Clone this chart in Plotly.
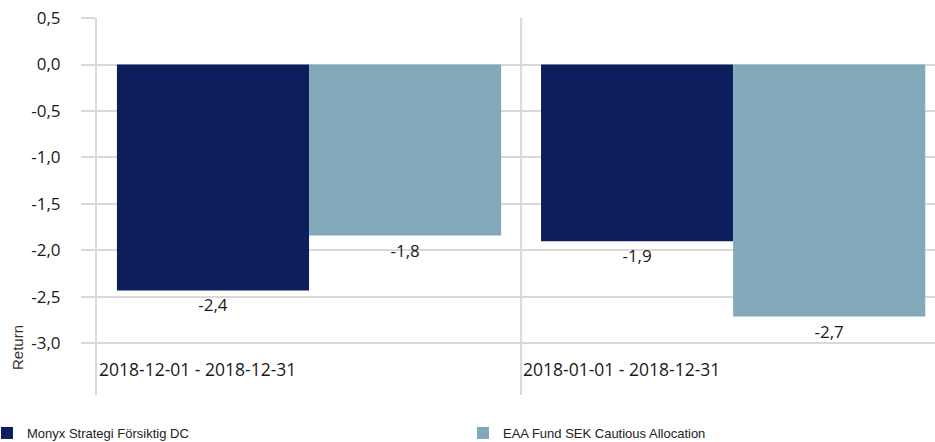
import plotly.graph_objects as go

categories = ["2018-12-01 - 2018-12-31", "2018-01-01 - 2018-12-31"]
series_names = ["Monyx Strategi Försiktig DC", "EAA Fund SEK Cautious Allocation"]
monyx = [-2.43, -1.90]
eaa = [-1.84, -2.71]
colors = ["#0C1F5C", "#81A9BA"]
y_ticks = [0.5, 0.0, -0.5, -1.0, -1.5, -2.0, -2.5, -3.0]

def fmt(v):
    return f"{v:.1f}".replace(".", ",")

FONT = "Open Sans, sans-serif"
NARROW = "Liberation Sans Narrow, Arial Narrow, Liberation Sans, sans-serif"

xs = list(range(len(categories)))
fig = go.Figure()
for k, (name, vals, col) in enumerate(zip(series_names, [monyx, eaa], colors)):
    fig.add_trace(go.Bar(
        x=xs, y=vals, name=name, marker=dict(color=col, line=dict(width=0)),
        text=[fmt(v) for v in vals], textposition="outside",
        textfont=dict(family=FONT, size=17, color="#1a1a1a"),
        cliponaxis=False, legend="legend" if k == 0 else "legend2",
    ))

grid = "#d9d9d9"
legend_common = dict(orientation="h", xref="paper", xanchor="left",
                     y=(442 - 433) / 442, yref="container", yanchor="middle",
                     font=dict(family=NARROW, size=13, color="#222"),
                     itemwidth=30, bgcolor="rgba(0,0,0,0)")
fig.update_layout(
    width=935, height=442,
    margin=dict(l=97, r=0, t=18, b=47, autoexpand=False),
    paper_bgcolor="white", plot_bgcolor="white",
    barmode="group", bargap=0.094, bargroupgap=0,
    showlegend=True,
    legend=dict(x=(-13 - 97) / 838, **legend_common),
    legend2=dict(x=(503 - 40 - 97) / 838, **legend_common),
    xaxis=dict(range=[-0.5, 1.476], showticklabels=False, showgrid=False, zeroline=False,
               showline=False, ticks=""),
    yaxis=dict(range=[-3.554, 0.5], tickvals=y_ticks, ticktext=[fmt(v) for v in y_ticks],
               showgrid=True, gridcolor=grid, gridwidth=2, zeroline=False,
               showline=True, linecolor=grid, linewidth=2,
               ticks="outside", ticklen=14, tickcolor=grid, tickwidth=2,
               ticklabelstandoff=17,
               tickfont=dict(family=FONT, size=17, color="#1a1a1a")),
)

# category divider
fig.add_shape(type="line", xref="x", yref="paper", x0=0.5, x1=0.5, y0=0, y1=1,
              line=dict(color=grid, width=2), layer="below")

for i, c in enumerate(categories):
    fig.add_annotation(x=i - 0.5, y=-3.27, xref="x", yref="y", text=c, showarrow=False,
                       xanchor="left", yanchor="middle", xshift=0,
                       font=dict(family=FONT, size=17.5, color="#1a1a1a"))

fig.add_annotation(x=(17 - 97) / 838, y=1 - (348 - 18) / 377, xref="paper", yref="paper",
                   text="Return", showarrow=False, textangle=-90,
                   xanchor="center", yanchor="middle",
                   font=dict(family=NARROW, size=15, color="#333"))

fig.write_html("out.html", config={"displayModeBar": False},
               post_script="document.body.style.margin='0';")
